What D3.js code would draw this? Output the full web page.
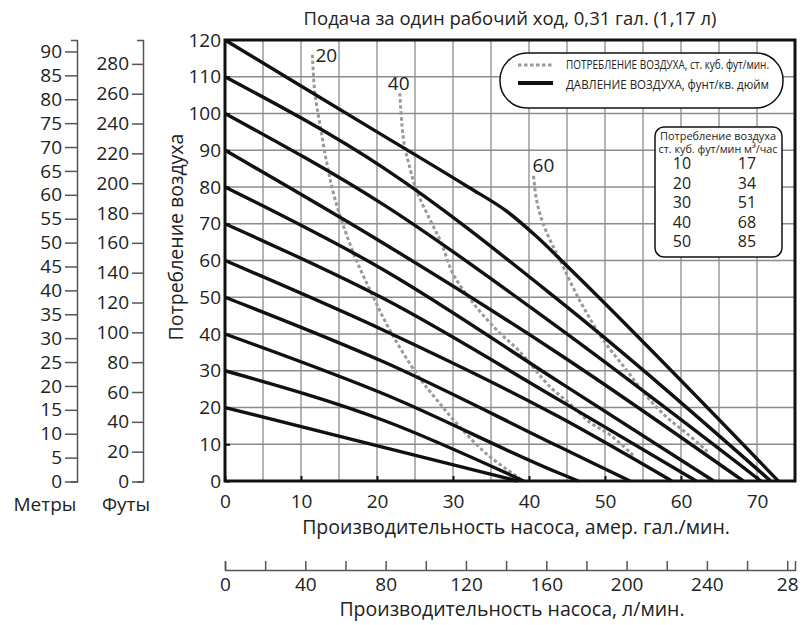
<!DOCTYPE html>
<html>
<head>
<meta charset="utf-8">
<script src="https://cdn.jsdelivr.net/npm/d3@7"></script>
<style>
  body { margin: 0; background: #fff; }
  svg { display: block; font-family: "Open Sans", sans-serif; }
</style>
</head>
<body>
<svg id="chart" width="809" height="625"></svg>
<script>
// air pressure curves, [US gpm, psi]
const psi20 = [[0, 20], [21, 9.1], [38.5, 0]]
const psi30 = [[0, 30], [21, 16.4], [39.3, 0]]
const psi40 = [[0, 40], [21, 23.6], [44, 2.1], [46.5, 0]]
const psi50 = [[0, 50], [21, 32.3], [44, 9.3], [53.3, 0]]
const psi60 = [[0, 60], [21, 40.9], [44, 17.4], [58.8, 0]]
const psi70 = [[0, 70], [21, 49.5], [44, 22], [62, 0]]
const psi80 = [[0, 80], [21, 57.3], [44, 26.9], [64.3, 0]]
const psi90 = [[0, 90], [21, 64.5], [44, 34.5], [68.2, 0]]
const psi100 = [[0, 100], [21, 75], [44, 41.5], [70.5, 0]]
const psi110 = [[0, 110], [21, 85], [44, 49], [71.8, 0]]
const psi120 = [[0, 120], [20, 95], [32, 80], [37, 73.5], [41, 66.5], [45, 58.5], [72.8, 0]]

// air consumption curves (scfm), [US gpm, psi]
const air20 = [[11.5, 116], [11.8, 106], [12.5, 97], [13.4, 86.5], [14.5, 76.5], [16.9, 62], [19.3, 51],
  [21.7, 41], [25.2, 29.2], [27.9, 22], [30.9, 14.7], [34.4, 7.4], [37.9, 2], [38.8, 0.8]]
const air40 = [[23, 105.5], [23.5, 92.7], [24.3, 85.4], [25.2, 79], [27, 71], [28.5, 64.6], [30, 56.4],
  [32.7, 48.3], [35.8, 41], [38.6, 35.6], [42.8, 25.6], [45.4, 21], [48, 16], [50.7, 12.5], [53.7, 7]]
const air60 = [[40.6, 83], [41, 76.4], [41.7, 71], [42.8, 65.4], [44.1, 60], [46.7, 49], [49.8, 38.3],
  [52.9, 30], [55.5, 23], [58.1, 17.4], [60.8, 12.9], [63.5, 8]]
const airNames = ["20", "40", "60"]

// ticks
const galTicks = d3.range(0, 71, 10)
const psiTicks = d3.range(0, 121, 10)
const lpmTicks = d3.range(0, 281, 20)
const lpmLabels = ["0", "40", "80", "120", "160", "200", "240", "28"]
const meterTicks = d3.range(0, 91, 5)
const feetTicks = d3.range(0, 281, 20)

// small table of air consumption
const scfmValues = [10, 20, 30, 40, 50]
const m3hValues = [17, 34, 51, 68, 85]

const pressureLines = [psi20, psi30, psi40, psi50, psi60, psi70, psi80, psi90, psi100, psi110, psi120]
const airLines = [air20, air40, air60]

const svg = d3.select("#chart")

const x = d3.scaleLinear().domain([0, 75]).range([225, 795]) // US gpm
const y = d3.scaleLinear().domain([0, 120]).range([481, 40]) // psi
const xL = d3.scaleLinear().domain([0, 75 * 3.785]).range([225, 795]) // litres per min
const yM = d3.scaleLinear().domain([0, 92.4]).range([481.5, 40]) // metres
const yF = d3.scaleLinear().domain([0, 296]).range([481.5, 40]) // feet

// grid
svg.append("g")
  .selectAll("line")
  .data(d3.range(5, 75, 5))
  .join("line")
  .attr("x1", d => x(d)).attr("x2", d => x(d))
  .attr("y1", y(0)).attr("y2", y(120))
  .attr("stroke", "#8c8c8c").attr("stroke-width", 1.3)

svg.append("g")
  .selectAll("line")
  .data(d3.range(10, 120, 10))
  .join("line")
  .attr("x1", x(0)).attr("x2", x(75))
  .attr("y1", d => y(d)).attr("y2", d => y(d))
  .attr("stroke", "#8c8c8c").attr("stroke-width", 1.3)

// air consumption, dashed gray
const airLine = d3.line().x(d => x(d[0])).y(d => y(d[1])).curve(d3.curveCatmullRom.alpha(0.5))
svg.append("g")
  .selectAll("path")
  .data(airLines)
  .join("path")
  .attr("d", airLine)
  .attr("fill", "none")
  .attr("stroke", "#9a9a9a")
  .attr("stroke-width", 3)
  .attr("stroke-dasharray", "3.5,2.5")

// pressure, solid black
const pLine = d3.line().x(d => x(d[0])).y(d => y(d[1])).curve(d3.curveMonotoneX)
svg.append("g")
  .selectAll("path")
  .data(pressureLines)
  .join("path")
  .attr("d", pLine)
  .attr("fill", "none")
  .attr("stroke", "#111")
  .attr("stroke-width", 3.4)

// labels at the top of the dashed curves
const labelShift = [[3, 7], [-12, -3], [-1, -4]]
svg.append("g")
  .selectAll("text")
  .data(airLines)
  .join("text")
  .attr("x", (d, i) => x(d[0][0]) + labelShift[i][0])
  .attr("y", (d, i) => y(d[0][1]) + labelShift[i][1])
  .attr("font-size", 19)
  .attr("fill", "#222")
  .text((d, i) => airNames[i])

// plot frame
svg.append("rect")
  .attr("x", x(0)).attr("y", y(120))
  .attr("width", x(75) - x(0)).attr("height", y(0) - y(120))
  .attr("fill", "none").attr("stroke", "#111").attr("stroke-width", 3)

// main axes
const yAxis = svg.append("g")
  .attr("transform", `translate(${x(0)},0)`)
  .call(d3.axisLeft(y).tickValues(psiTicks).tickSize(-5).tickPadding(4))
yAxis.select(".domain").remove()

const xAxis = svg.append("g")
  .attr("transform", `translate(0,${y(0)})`)
  .call(d3.axisBottom(x).tickValues(galTicks).tickSize(-5).tickPadding(14))
xAxis.select(".domain").remove()

for (const g of [yAxis, xAxis]) {
  g.selectAll(".tick line").attr("stroke", "#111").attr("stroke-width", 2)
  g.selectAll("text").attr("font-family", "Open Sans").attr("font-size", 19).attr("fill", "#222")
}

// litres axis under the chart
const lAxis = svg.append("g")
  .attr("transform", "translate(0,570)")
  .call(d3.axisBottom(xL).tickValues(lpmTicks).tickSize(-9).tickSizeOuter(-9).tickPadding(0)
    .tickFormat(d => (d % 40 === 0 ? lpmLabels[d / 40] : "")))
lAxis.selectAll("text").attr("y", 8)

// metres and feet axes on the left
const mAxis = svg.append("g")
  .attr("transform", "translate(77,0)")
  .call(d3.axisLeft(yM).tickValues(meterTicks).tickSize(12).tickSizeOuter(6).tickPadding(3))

const fAxis = svg.append("g")
  .attr("transform", "translate(143,0)")
  .call(d3.axisLeft(yF).tickValues(feetTicks).tickSize(11).tickSizeOuter(6).tickPadding(3))

for (const g of [lAxis, mAxis, fAxis]) {
  g.selectAll("path, line").attr("stroke", "#555").attr("stroke-width", 1.5)
  g.selectAll("text").attr("font-family", "Open Sans").attr("font-size", 19).attr("fill", "#222")
}

// titles
svg.append("text").attr("x", 510).attr("y", 25).attr("text-anchor", "middle")
  .attr("font-size", 18.5).attr("fill", "#222")
  .text("Подача за один рабочий ход, 0,31 гал. (1,17 л)")

svg.append("text").attr("x", 516).attr("y", 534).attr("text-anchor", "middle")
  .attr("font-size", 19.5).attr("fill", "#222")
  .text("Производительность насоса, амер. гал./мин.")

svg.append("text").attr("x", 512).attr("y", 616).attr("text-anchor", "middle")
  .attr("font-size", 19.5).attr("fill", "#222")
  .text("Производительность насоса, л/мин.")

svg.append("text").attr("transform", "translate(183,237) rotate(-90)").attr("text-anchor", "middle")
  .attr("font-size", 19.5).attr("fill", "#222")
  .text("Потребление воздуха")

svg.append("text").attr("x", 45).attr("y", 511).attr("text-anchor", "middle")
  .attr("font-size", 19).attr("fill", "#222").text("Метры")
svg.append("text").attr("x", 126).attr("y", 511).attr("text-anchor", "middle")
  .attr("font-size", 19).attr("fill", "#222").text("Футы")

// legend
const legend = svg.append("g")
legend.append("rect").attr("x", 500).attr("y", 53).attr("width", 283).attr("height", 55).attr("rx", 27)
  .attr("fill", "#fff").attr("stroke", "#111").attr("stroke-width", 1.5)
legend.append("line").attr("x1", 518).attr("x2", 553).attr("y1", 65).attr("y2", 65)
  .attr("stroke", "#9a9a9a").attr("stroke-width", 3).attr("stroke-dasharray", "3.5,2.5")
legend.append("line").attr("x1", 518).attr("x2", 553).attr("y1", 83).attr("y2", 83)
  .attr("stroke", "#111").attr("stroke-width", 4)
legend.append("text").attr("x", 566).attr("y", 69).attr("font-size", 13).attr("fill", "#222")
  .attr("textLength", 203).attr("lengthAdjust", "spacingAndGlyphs")
  .text("ПОТРЕБЛЕНИЕ ВОЗДУХА, ст. куб. фут/мин.")
legend.append("text").attr("x", 566).attr("y", 89).attr("font-size", 13).attr("fill", "#222")
  .attr("textLength", 203).attr("lengthAdjust", "spacingAndGlyphs")
  .text("ДАВЛЕНИЕ ВОЗДУХА, фунт/кв. дюйм")

// conversion table
const table = svg.append("g")
table.append("rect").attr("x", 655).attr("y", 127).attr("width", 127).attr("height", 130).attr("rx", 9)
  .attr("fill", "#fff").attr("stroke", "#111").attr("stroke-width", 1.5)
table.append("text").attr("x", 718).attr("y", 140).attr("text-anchor", "middle").attr("font-size", 11.5).attr("fill", "#222")
  .attr("textLength", 116).attr("lengthAdjust", "spacingAndGlyphs").text("Потребление воздуха")
table.append("text").attr("x", 718).attr("y", 153).attr("text-anchor", "middle").attr("font-size", 11.5).attr("fill", "#222")
  .attr("textLength", 119).attr("lengthAdjust", "spacingAndGlyphs").text("ст. куб. фут/мин м³/час")
table.append("g").selectAll("text").data(scfmValues).join("text")
  .attr("x", 682).attr("y", (d, i) => 169 + i * 19.6).attr("text-anchor", "middle")
  .attr("font-size", 16).attr("fill", "#222").text(d => d)
table.append("g").selectAll("text").data(m3hValues).join("text")
  .attr("x", 747).attr("y", (d, i) => 169 + i * 19.6).attr("text-anchor", "middle")
  .attr("font-size", 16).attr("fill", "#222").text(d => d)
</script>
</body>
</html>
